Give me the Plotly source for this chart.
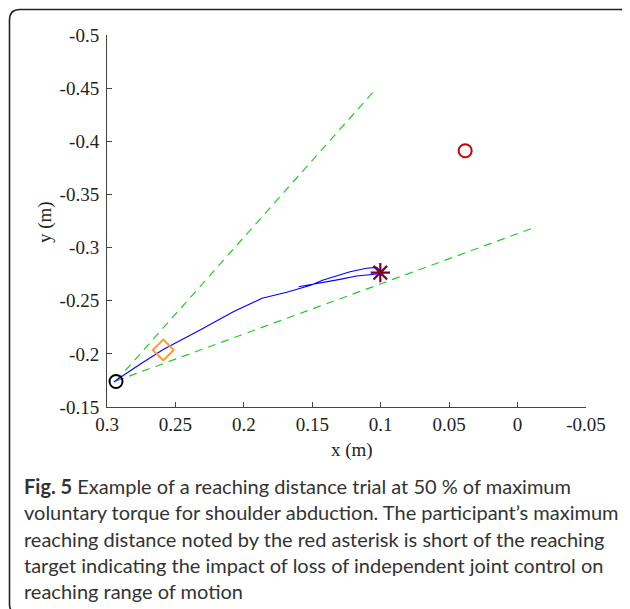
import plotly.graph_objects as go

# ---------------- data ----------------
traj_x = [0.2950, 0.2925, 0.2890, 0.2750, 0.2589, 0.2320, 0.2077, 0.1867, 0.1687,
          0.1517, 0.1420, 0.1224, 0.1103, 0.1029, 0.1005, 0.1027, 0.1176, 0.1298,
          0.1468, 0.1600]
traj_y = [-0.1735, -0.1760, -0.1790, -0.1910, -0.2041, -0.2224, -0.2397, -0.2523,
          -0.2579, -0.2643, -0.2695, -0.2773, -0.2805, -0.2814, -0.2784, -0.2751,
          -0.2732, -0.2701, -0.2664, -0.2632]

cone_upper_x = [0.2934, 0.103]
cone_upper_y = [-0.1745, -0.450]
cone_lower_x = [0.2934, -0.0103]
cone_lower_y = [-0.1745, -0.318]

start_x, start_y = [0.2934], [-0.1740]
mid_x, mid_y = [0.2589], [-0.2036]
maxreach_x, maxreach_y = [0.1003], [-0.2764]
target_x, target_y = [0.0383], [-0.3911]

x_ticks = [0.3, 0.25, 0.2, 0.15, 0.1, 0.05, 0, -0.05]
x_ticktext = ["0.3", "0.25", "0.2", "0.15", "0.1", "0.05", "0", "-0.05"]
y_ticks = [-0.5, -0.45, -0.4, -0.35, -0.3, -0.25, -0.2, -0.15]
y_ticktext = ["-0.5", "-0.45", "-0.4", "-0.35", "-0.3", "-0.25", "-0.2", "-0.15"]

caption_lines = [
    "<b>Fig. 5</b> Example of a reaching distance trial at 50 % of maximum",
    "voluntary torque for shoulder abduction. The participant\u2019s maximum",
    "reaching distance noted by the red asterisk is short of the reaching",
    "target indicating the impact of loss of independent joint control on",
    "reaching range of motion",
]

# ---------------- layout geometry (window pixels) ----------------
OFF = 8                      # default body margin of the html page
WIN_W, WIN_H = 630, 609
L, R, T, B = 107, 586, 35, 407   # plot area in window pixels
W, H = WIN_W - OFF, WIN_H - OFF


def px(x):
    return (x - L) / (R - L)


def py(y):
    return (B - y) / (B - T)


SERIF = "Liberation Serif, Times New Roman, serif"
SANS = "Lato, Open Sans, sans-serif"
GREEN = "#22cc22"

fig = go.Figure()
fig.add_trace(go.Scatter(x=cone_upper_x, y=cone_upper_y, mode="lines",
                         line=dict(color=GREEN, width=1.2, dash="8px,6px"),
                         hoverinfo="skip"))
fig.add_trace(go.Scatter(x=cone_lower_x, y=cone_lower_y, mode="lines",
                         line=dict(color=GREEN, width=1.2, dash="8px,6px"),
                         hoverinfo="skip"))
fig.add_trace(go.Scatter(x=traj_x, y=traj_y, mode="lines",
                         line=dict(color="#0000ff", width=1.1)))
fig.add_trace(go.Scatter(x=start_x, y=start_y, mode="markers",
                         marker=dict(symbol="circle-open", size=13, color="black",
                                     line=dict(width=2, color="black"))))
fig.add_trace(go.Scatter(x=mid_x, y=mid_y, mode="markers",
                         marker=dict(symbol="diamond-open", size=16, color="#ff9933",
                                     line=dict(width=2, color="#ff9933"))))
fig.add_trace(go.Scatter(x=maxreach_x, y=maxreach_y, mode="markers",
                         marker=dict(symbol="asterisk-open", size=16, color="#7a0030",
                                     line=dict(width=2.2, color="#7a0030"))))
fig.add_trace(go.Scatter(x=target_x, y=target_y, mode="markers",
                         marker=dict(symbol="circle-open", size=13, color="#cc0000",
                                     line=dict(width=2, color="#cc0000"))))

axis_common = dict(showgrid=False, zeroline=False, showline=True, linecolor="#444",
                   linewidth=1, ticks="inside", ticklen=5, tickcolor="#444",
                   tickfont=dict(family=SERIF, size=19, color="#222"))
fig.update_xaxes(range=[0.3, -0.05], tickvals=x_ticks, ticktext=x_ticktext,
                 **axis_common)
fig.update_yaxes(range=[-0.15, -0.5], tickvals=y_ticks, ticktext=y_ticktext,
                 ticklabelstandoff=3, **axis_common)

annotations = [
    dict(text="x (m)", x=px(352), y=py(450), xref="paper", yref="paper",
         showarrow=False, font=dict(family=SERIF, size=19, color="#222"),
         xanchor="center", yanchor="middle"),
    dict(text="y (m)", x=px(45), y=py(222), xref="paper", yref="paper",
         showarrow=False, textangle=-90, font=dict(family=SERIF, size=19, color="#222"),
         xanchor="center", yanchor="middle"),
]
line_y = [486, 512, 539, 565, 591]
for txt, yy in zip(caption_lines, line_y):
    annotations.append(dict(text=txt, x=px(22), y=py(yy), xref="paper", yref="paper",
                            showarrow=False, xanchor="left", yanchor="middle",
                            align="left",
                            font=dict(family=SANS, size=20, color="#333")))


def P(x, y):
    return f"{px(x):.5f},{py(y):.5f}"


border = ("M " + P(9.5, 604) + " L " + P(9.5, 20) + " Q " + P(9.5, 9.5) + " " + P(20, 9.5)
          + " L " + P(619.5, 9.5) + " Q " + P(629.5, 9.5) + " " + P(629.5, 20)
          + " L " + P(629.5, 604) + " M " + P(9.5, 604) + " Q " + P(9.5, 614) + " "
          + P(19.5, 614))

fig.update_layout(
    width=W, height=H,
    margin=dict(l=L - OFF, r=WIN_W - R, t=T - OFF, b=WIN_H - B),
    paper_bgcolor="white", plot_bgcolor="white",
    showlegend=False,
    annotations=annotations,
    shapes=[dict(type="path", path=border, xref="paper", yref="paper",
                 line=dict(color="#222", width=1.6), layer="above")],
)

fig.write_html("out.html")
